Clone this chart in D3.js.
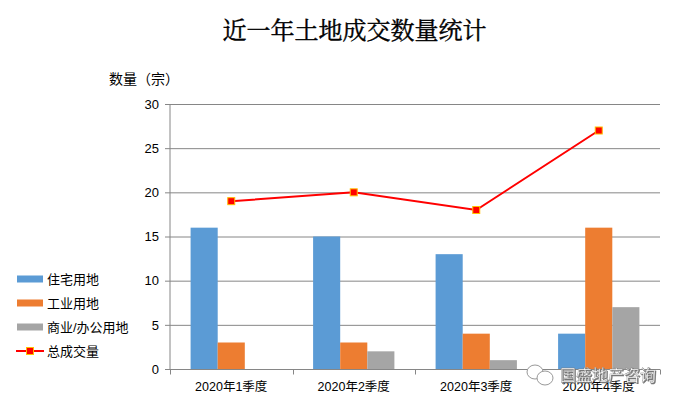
<!doctype html>
<html lang="zh">
<head>
    <meta charset="utf-8">
    <title>近一年土地成交数量统计</title>
    <script src="https://cdnjs.cloudflare.com/ajax/libs/d3/7.8.5/d3.min.js"></script>
    <style>
        html, body { margin: 0; background: #fff; }
        svg { display: block; }
        text { font-family: "Liberation Sans", "Noto Sans CJK SC", sans-serif; fill: #000; }
    </style>
</head>
<body>
<script>
    const quarters = ["2020年1季度", "2020年2季度", "2020年3季度", "2020年4季度"];
    const residential = [16, 15, 13, 4];
    const industrial = [3, 3, 4, 16];
    const commercial = [0, 2, 1, 7];
    const total = [19, 20, 18, 27];
    const yTicks = [0, 5, 10, 15, 20, 25, 30];
    const barNames = ["住宅用地", "工业用地", "商业/办公用地"];
    const lineName = "总成交量";
    const barColors = ["#5b9bd5", "#ed7d31", "#a5a5a5"];

    const width = 677, height = 406;
    const barSeries = [residential, industrial, commercial];

    const svg = d3.select("body").append("svg")
        .attr("width", width)
        .attr("height", height);

    const x = d3.scaleBand().domain(quarters).range([170, 660]);
    const xInner = d3.scaleBand().domain(d3.range(3))
        .range([0, x.bandwidth()])
        .paddingOuter(0.76).paddingInner(0);
    const y = d3.scaleLinear().domain([0, 30]).range([369, 104]);

    // title
    svg.append("text")
        .attr("x", 354.5).attr("y", 39)
        .attr("text-anchor", "middle")
        .style("font-family", "'Noto Serif CJK SC', 'Noto Sans CJK SC', serif")
        .style("stroke", "#000")
        .style("stroke-width", 0.4)
        .attr("font-size", 24)
        .text("近一年土地成交数量统计");

    svg.append("text")
        .attr("x", 109).attr("y", 84)
        .attr("font-size", 14)
        .text("数量（宗）");

    // y axis with gridlines
    const yAxis = svg.append("g")
        .attr("transform", "translate(170,0)")
        .call(d3.axisLeft(y).tickValues(yTicks).tickSize(5).tickPadding(6));
    yAxis.select(".domain").attr("stroke", "#868686").attr("d", "M0,104V369");
    yAxis.selectAll(".tick line").attr("stroke", "#868686");
    yAxis.selectAll("text").attr("font-size", 13).style("font-family", "'Liberation Sans', sans-serif");

    svg.append("g").selectAll("line")
        .data(yTicks)
        .join("line")
        .attr("x1", 170).attr("x2", 660)
        .attr("y1", d => y(d) + 0.5).attr("y2", d => y(d) + 0.5)
        .attr("stroke", "#868686");

    // bars
    barSeries.forEach((values, s) => {
        svg.append("g").selectAll("rect")
            .data(values)
            .join("rect")
            .attr("x", (d, i) => x(quarters[i]) + xInner(s))
            .attr("y", d => y(d))
            .attr("width", xInner.bandwidth())
            .attr("height", d => y(0) - y(d))
            .attr("fill", barColors[s]);
    });

    // x axis, ticks fall between the categories
    const xAxis = svg.append("g").attr("transform", "translate(0,369.5)");
    xAxis.append("line").attr("x1", 170).attr("x2", 660).attr("stroke", "#868686");
    xAxis.selectAll(".sep")
        .data(quarters.concat("end"))
        .join("line")
        .attr("class", "sep")
        .attr("x1", (d, i) => Math.round(170 + i * x.step()) + 0.5)
        .attr("x2", (d, i) => Math.round(170 + i * x.step()) + 0.5)
        .attr("y1", 0).attr("y2", 5)
        .attr("stroke", "#868686");
    xAxis.selectAll(".cat")
        .data(quarters)
        .join("text")
        .attr("class", "cat")
        .attr("x", d => x(d) + x.bandwidth() / 2)
        .attr("y", 21)
        .attr("text-anchor", "middle")
        .attr("font-size", 12.5)
        .text(d => d);

    // total line
    const line = d3.line()
        .x((d, i) => x(quarters[i]) + x.bandwidth() / 2)
        .y(d => y(d));

    svg.append("path")
        .attr("d", line(total))
        .attr("fill", "none")
        .attr("stroke", "#ff0000")
        .attr("stroke-width", 2);

    svg.append("g").selectAll("rect")
        .data(total)
        .join("rect")
        .attr("x", (d, i) => x(quarters[i]) + x.bandwidth() / 2 - 3.5)
        .attr("y", d => y(d) - 3.5)
        .attr("width", 7).attr("height", 7)
        .attr("fill", "#ff0000")
        .attr("stroke", "#ffc000");

    // legend
    const legend = svg.append("g");
    const legendY = d3.scaleLinear().domain([0, 1]).range([279, 303]);

    barNames.forEach((name, i) => {
        legend.append("rect")
            .attr("x", 17).attr("y", legendY(i) - 3.5)
            .attr("width", 26).attr("height", 7)
            .attr("fill", barColors[i]);
        legend.append("text")
            .attr("x", 47).attr("y", legendY(i) + 5)
            .attr("font-size", 13)
            .text(name);
    });

    legend.append("line")
        .attr("x1", 16).attr("x2", 44)
        .attr("y1", legendY(3)).attr("y2", legendY(3))
        .attr("stroke", "#ff0000").attr("stroke-width", 2);
    legend.append("rect")
        .attr("x", 26.5).attr("y", legendY(3) - 3.5)
        .attr("width", 7).attr("height", 7)
        .attr("fill", "#ff0000").attr("stroke", "#ffc000");
    legend.append("text")
        .attr("x", 47).attr("y", legendY(3) + 5)
        .attr("font-size", 13)
        .text(lineName);

    // watermark
    const mark = svg.append("g").attr("fill", "#fff").attr("stroke", "#999");
    mark.append("ellipse").attr("cx", 535).attr("cy", 372).attr("rx", 8).attr("ry", 7);
    mark.append("ellipse").attr("cx", 545).attr("cy", 378).attr("rx", 8).attr("ry", 7);
    svg.append("text")
        .attr("x", 560).attr("y", 381)
        .attr("font-size", 16)
        .style("fill", "#fff")
        .style("stroke", "#777")
        .style("stroke-width", 0.4)
        .style("filter", "drop-shadow(1px 1px 0 #777)")
        .text("国盛地产咨询");
</script>
</body>
</html>
